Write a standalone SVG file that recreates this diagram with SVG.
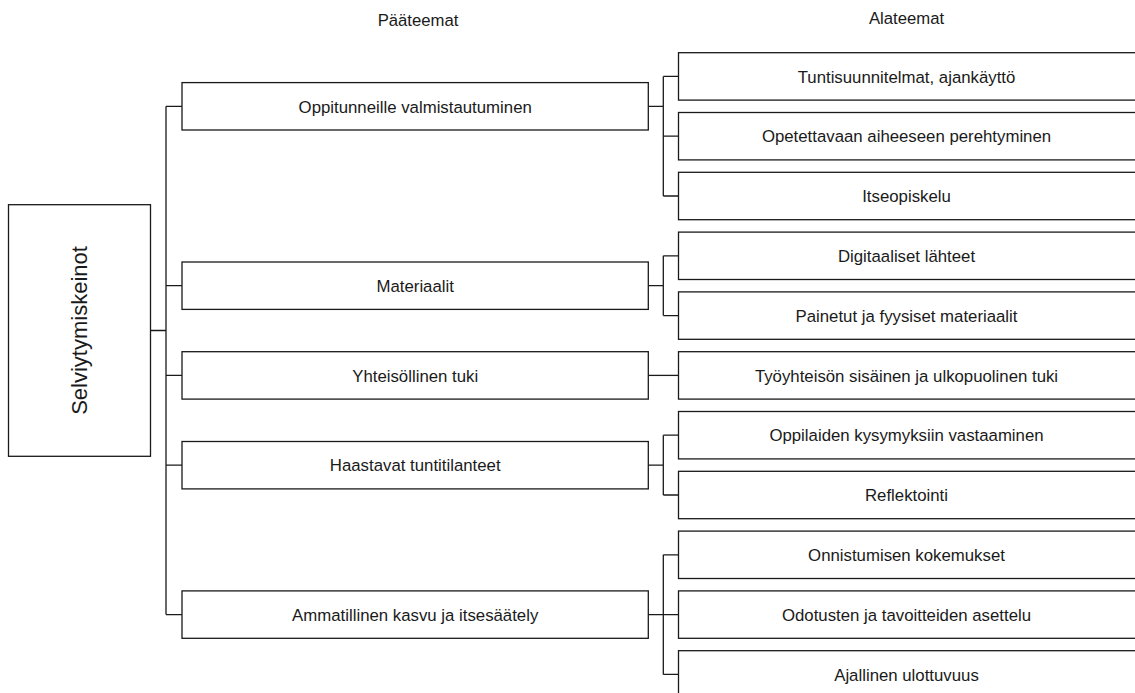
<svg xmlns="http://www.w3.org/2000/svg" width="1135" height="693" viewBox="0 0 1135 693">
<style>
.box{fill:#fff;stroke:#1a1a1a;stroke-width:1.3}
.lbl{font-family:"Liberation Sans",Arial,sans-serif;font-size:16.8px;fill:#1a1a1a;text-anchor:middle}
.hdr{font-family:"Liberation Sans",Arial,sans-serif;font-size:16.7px;fill:#1a1a1a;text-anchor:middle}
.root{font-family:"Liberation Sans",Arial,sans-serif;font-size:22px;fill:#1a1a1a;text-anchor:middle}
.con{fill:none;stroke:#1a1a1a;stroke-width:1.3}
</style>
<rect width="1135" height="693" fill="#fff"/>
<text class="hdr" x="418" y="26">Pääteemat</text>
<text class="hdr" x="906.5" y="23.5">Alateemat</text>
<g id="connectors" class="con">
<path d="M150.5 330.5H166M166 106.3V614.6M166 106.3H182M166 285.7H182M166 375.4H182M166 465.2H182M166 614.6H182"/>
<path d="M648.3 106.3H663.3M663.3 76.4V196M663.3 76.4H678.5M663.3 136.2H678.5M663.3 196H678.5"/>
<path d="M648.3 285.7H663.3M663.3 255.8V315.6M663.3 255.8H678.5M663.3 315.6H678.5"/>
<path d="M648.3 375.4H678.5"/>
<path d="M648.3 465.2H663.3M663.3 435.2V495M663.3 435.2H678.5M663.3 495H678.5"/>
<path d="M648.3 614.6H663.3M663.3 554.8V674.4M663.3 554.8H678.5M663.3 614.6H678.5M663.3 674.4H678.5"/>
</g>
<g id="root">
<rect class="box" x="8.5" y="204.7" width="142" height="251.6"/>
<text class="root" transform="translate(87.3,330.5) rotate(-90)">Selviytymiskeinot</text>
</g>
<g id="main1"><rect class="box" x="182" y="82.6" width="466.3" height="47.4"/><text class="lbl" x="415.2" y="112.5">Oppitunneille valmistautuminen</text></g>
<g id="main2"><rect class="box" x="182" y="262" width="466.3" height="47.4"/><text class="lbl" x="415.2" y="291.9">Materiaalit</text></g>
<g id="main3"><rect class="box" x="182" y="351.7" width="466.3" height="47.4"/><text class="lbl" x="415.2" y="381.6">Yhteisöllinen tuki</text></g>
<g id="main4"><rect class="box" x="182" y="441.5" width="466.3" height="47.4"/><text class="lbl" x="415.2" y="471.4">Haastavat tuntitilanteet</text></g>
<g id="main5"><rect class="box" x="182" y="590.9" width="466.3" height="47.4"/><text class="lbl" x="415.2" y="620.8">Ammatillinen kasvu ja itsesäätely</text></g>
<g id="sub1"><rect class="box" x="678.5" y="52.7" width="470" height="47.4"/><text class="lbl" x="906.5" y="82.6">Tuntisuunnitelmat, ajankäyttö</text></g>
<g id="sub2"><rect class="box" x="678.5" y="112.5" width="470" height="47.4"/><text class="lbl" x="906.5" y="142.4">Opetettavaan aiheeseen perehtyminen</text></g>
<g id="sub3"><rect class="box" x="678.5" y="172.3" width="470" height="47.4"/><text class="lbl" x="906.5" y="202.2">Itseopiskelu</text></g>
<g id="sub4"><rect class="box" x="678.5" y="232.1" width="470" height="47.4"/><text class="lbl" x="906.5" y="262">Digitaaliset lähteet</text></g>
<g id="sub5"><rect class="box" x="678.5" y="291.9" width="470" height="47.4"/><text class="lbl" x="906.5" y="321.8">Painetut ja fyysiset materiaalit</text></g>
<g id="sub6"><rect class="box" x="678.5" y="351.7" width="470" height="47.4"/><text class="lbl" x="906.5" y="381.6">Työyhteisön sisäinen ja ulkopuolinen tuki</text></g>
<g id="sub7"><rect class="box" x="678.5" y="411.5" width="470" height="47.4"/><text class="lbl" x="906.5" y="441.4">Oppilaiden kysymyksiin vastaaminen</text></g>
<g id="sub8"><rect class="box" x="678.5" y="471.3" width="470" height="47.4"/><text class="lbl" x="906.5" y="501.2">Reflektointi</text></g>
<g id="sub9"><rect class="box" x="678.5" y="531.1" width="470" height="47.4"/><text class="lbl" x="906.5" y="561">Onnistumisen kokemukset</text></g>
<g id="sub10"><rect class="box" x="678.5" y="590.9" width="470" height="47.4"/><text class="lbl" x="906.5" y="620.8">Odotusten ja tavoitteiden asettelu</text></g>
<g id="sub11"><rect class="box" x="678.5" y="650.7" width="470" height="47.4"/><text class="lbl" x="906.5" y="680.6">Ajallinen ulottuvuus</text></g>
</svg>
